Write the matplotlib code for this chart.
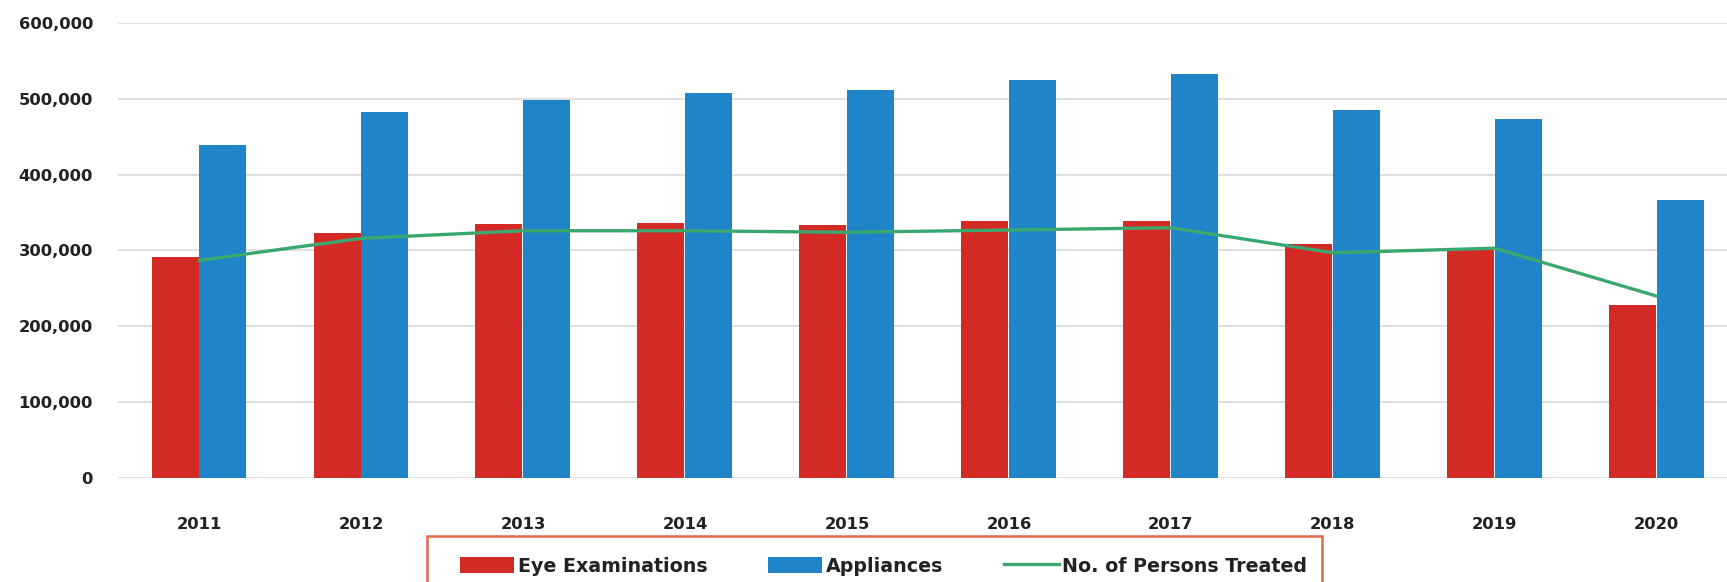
import matplotlib
matplotlib.use("Agg")
import matplotlib.pyplot as plt
from matplotlib.ticker import FuncFormatter
from matplotlib.patches import Rectangle
import numpy as np

years = ['2011', '2012', '2013', '2014', '2015', '2016', '2017', '2018', '2019', '2020']
eye_examinations = [292000, 323000, 335000, 336000, 334000, 339000, 339000, 309000, 301000, 228000]
appliances = [439000, 482000, 498000, 507000, 511000, 525000, 532000, 485000, 473000, 366000]
persons_treated = [287000, 316000, 326000, 326000, 324000, 327000, 330000, 297000, 303000, 240000]

RED = '#d42a26'
BLUE = '#1f85c8'
GREEN = '#3aa86e'
TEXT = '#222222'

W, H = 1727, 582

plt.rcParams['font.family'] = ['DejaVu Sans']

fig = plt.figure(figsize=(W / 100, H / 100), dpi=100)
ax = fig.add_axes([118 / W, 1 - 478.3 / H, 1 - 118 / W, (478.3 - 22.7) / H])

x = np.arange(len(years))
bw = 0.29
red_bars = ax.bar(x - 0.15, eye_examinations, width=bw, color=RED, zorder=2,
                  label='Eye Examinations')
blue_bars = ax.bar(x + 0.145, appliances, width=bw, color=BLUE, zorder=2,
                   label='Appliances')
line, = ax.plot(x, persons_treated, color=GREEN, linewidth=2.4, zorder=3,
                label='No. of Persons Treated')

# Axes limits, grid, ticks
ax.set_xlim(-0.503, 9.435)
ax.set_ylim(0, 600000)
ax.set_yticks(range(0, 600001, 100000))
ax.yaxis.set_major_formatter(FuncFormatter(lambda v, _: f'{int(v):,}'))
ax.yaxis.grid(True, color='#dcdcdc', linewidth=1.3, zorder=0)
ax.set_axisbelow(True)
ax.set_xticks(x)
ax.set_xticklabels(years)

for s in ax.spines.values():
    s.set_visible(False)
ax.tick_params(axis='both', length=0, colors=TEXT, labelsize=11.8)
ax.tick_params(axis='y', pad=18)
ax.tick_params(axis='x', pad=28)
for lbl in ax.get_xticklabels() + ax.get_yticklabels():
    lbl.set_fontweight('bold')

# Legend below the plot, in an outlined box
fig.legend(handles=[red_bars, blue_bars, line],
           labels=['Eye Examinations', 'Appliances', 'No. of Persons Treated'],
           loc='center left', bbox_to_anchor=(450 / W, 1 - 566 / H),
           ncol=3, frameon=False, borderpad=0, handlelength=2.85,
           handleheight=0.9, handletextpad=0.2, columnspacing=3.2,
           prop={'weight': 'bold', 'size': 13.7}, labelcolor=TEXT)
fig.add_artist(Rectangle((427 / W, -0.05), (1322 - 427) / W, (H - 536) / H + 0.05,
                         transform=fig.transFigure, fill=False,
                         edgecolor='#de6a4a', linewidth=1.8))

fig.savefig('out.png', dpi=100)
